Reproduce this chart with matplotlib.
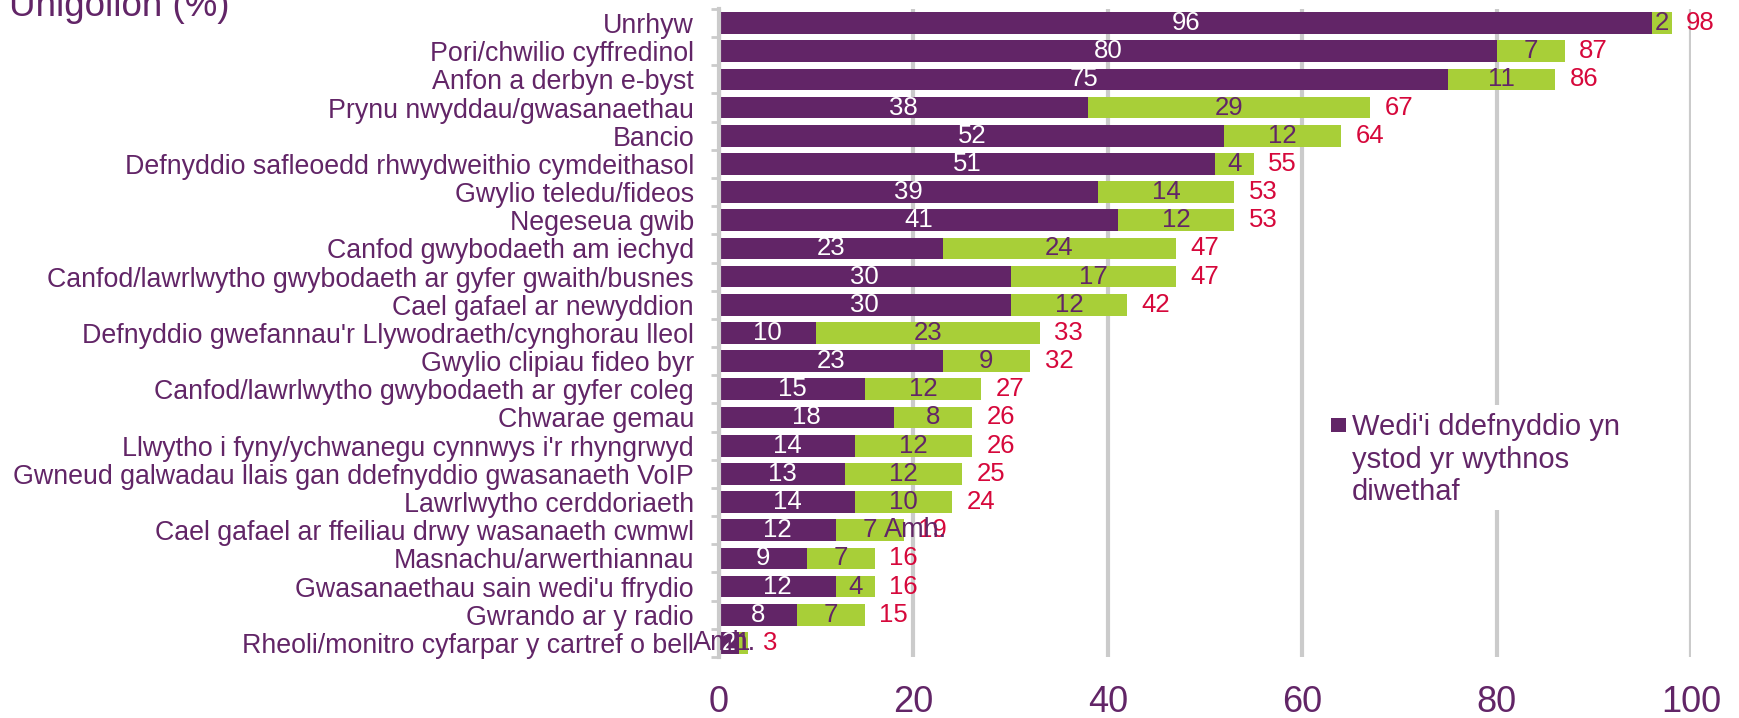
import numpy as np
import matplotlib.pyplot as plt
from matplotlib.patches import Rectangle

# data
categories = [
    "Unrhyw",
    "Pori/chwilio cyffredinol",
    "Anfon a derbyn e-byst",
    "Prynu nwyddau/gwasanaethau",
    "Bancio",
    "Defnyddio safleoedd rhwydweithio cymdeithasol",
    "Gwylio teledu/fideos",
    "Negeseua gwib",
    "Canfod gwybodaeth am iechyd",
    "Canfod/lawrlwytho gwybodaeth ar gyfer gwaith/busnes",
    "Cael gafael ar newyddion",
    "Defnyddio gwefannau'r Llywodraeth/cynghorau lleol",
    "Gwylio clipiau fideo byr",
    "Canfod/lawrlwytho gwybodaeth ar gyfer coleg",
    "Chwarae gemau",
    "Llwytho i fyny/ychwanegu cynnwys i'r rhyngrwyd",
    "Gwneud galwadau llais gan ddefnyddio gwasanaeth VoIP",
    "Lawrlwytho cerddoriaeth",
    "Cael gafael ar ffeiliau drwy wasanaeth cwmwl",
    "Masnachu/arwerthiannau",
    "Gwasanaethau sain wedi'u ffrydio",
    "Gwrando ar y radio",
    "Rheoli/monitro cyfarpar y cartref o bell",
]
last_week = [96, 80, 75, 38, 52, 51, 39, 41, 23, 30, 30, 10, 23, 15, 18, 14, 13, 14, 12, 9, 12, 8, 2]
earlier = [2, 7, 11, 29, 12, 4, 14, 12, 24, 17, 12, 23, 9, 12, 8, 12, 12, 10, 7, 7, 4, 7, 1]
totals = [98, 87, 86, 67, 64, 55, 53, 53, 47, 47, 42, 33, 32, 27, 26, 26, 25, 24, 19, 16, 16, 15, 3]
amh_rows = [18, 22]
amh_x = [20.2, 0.6]

purple = "#622567"
green = "#A8CF38"
red = "#D6083B"
grey = "#CBCBCB"

plt.rcParams['font.family'] = ["Liberation Sans", "DejaVu Sans"]

fig = plt.figure(figsize=(17.39, 7.18), dpi=100)
ax = fig.add_axes([0.4135, 0.085, 0.5589, 0.9025])

y = np.arange(len(categories))
ax.barh(y, last_week, height=0.77, color=purple, zorder=2)
ax.barh(y, earlier, left=last_week, height=0.77, color=green, zorder=2)

for i in range(len(categories)):
    ax.text(last_week[i] / 2, i, str(last_week[i]), color="white", fontsize=18.5,
            ha="center", va="center", zorder=3)
    ax.text(last_week[i] + earlier[i] / 2, i, str(earlier[i]), color=purple, fontsize=18.5,
            ha="center", va="center", zorder=3)
    ax.text(totals[i] + 1.5, i, str(totals[i]), color=red, fontsize=18.5,
            ha="left", va="center", zorder=3)

for r, xv in zip(amh_rows, amh_x):
    ax.text(xv, r, "Amh.", color=purple, fontsize=19.5, ha="center", va="center", zorder=4)

ax.set_xlim(0, 100)
ax.set_ylim(len(categories) - 0.5, -0.5)
ax.set_xticks([0, 20, 40, 60, 80, 100])
ax.set_yticks(y)
ax.set_yticklabels(categories)
ax.set_yticks(np.arange(len(categories) + 1) - 0.5, minor=True)
ax.tick_params(axis="y", which="major", length=0, pad=18, labelsize=19.3, labelcolor=purple)
ax.tick_params(axis="y", which="minor", length=6, width=2, color=grey)
ax.tick_params(axis="x", length=0, pad=20, labelsize=26, labelcolor=purple)

ax.grid(axis="x", color=grey, linewidth=3, zorder=0)
for s in ["top", "right", "bottom"]:
    ax.spines[s].set_visible(False)
ax.spines["left"].set_color(grey)
ax.spines["left"].set_linewidth(3)
ax.set_axisbelow(True)

# legend drawn by hand: white box, square marker on first line
ax.add_patch(Rectangle((60.25, 17.28), 38.0, -3.72, facecolor="white", edgecolor="none", zorder=1))
ax.add_patch(Rectangle((63.0, 14.52), 1.55, -0.5, facecolor=purple, edgecolor="none", zorder=3))
ax.text(65.1, 15.5, "Wedi'i ddefnyddio yn\nystod yr wythnos\ndiwethaf", color=purple,
        fontsize=21, ha="left", va="center", linespacing=1.2, zorder=3)

fig.text(9 / 1739, 1 - 16 / 718, "Unigolion (%)", color=purple, fontsize=26.5,
         ha="left", va="baseline")

fig.savefig("out.png", dpi=100)
